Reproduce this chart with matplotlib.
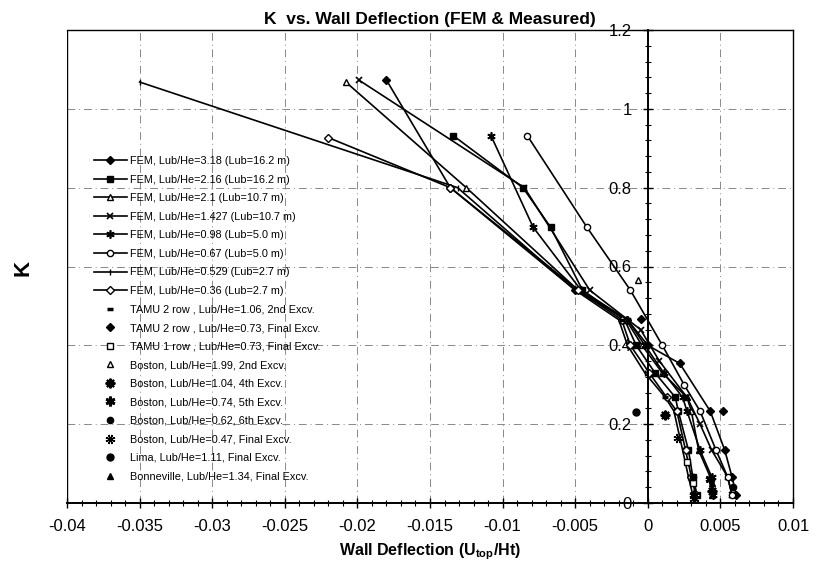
import matplotlib
matplotlib.use("Agg")
import matplotlib.pyplot as plt
from matplotlib.ticker import MultipleLocator

plt.rcParams['font.family'] = ['Liberation Sans', 'DejaVu Sans']

# ---------------- data ----------------
fem_labels = [
    "FEM, Lub/He=3.18 (Lub=16.2 m)",
    "FEM, Lub/He=2.16 (Lub=16.2 m)",
    "FEM, Lub/He=2.1 (Lub=10.7 m)",
    "FEM, Lub/He=1.427 (Lub=10.7 m)",
    "FEM, Lub/He=0.98 (Lub=5.0 m)",
    "FEM, Lub/He=0.67 (Lub=5.0 m)",
    "FEM, Lub/He=0.529 (Lub=2.7 m)",
    "FEM, Lub/He=0.36 (Lub=2.7 m)",
]
fem_x = [
    [-0.0180, -0.0136, -0.0050, -0.0014, 0.0000, 0.0022, 0.0043, 0.0053, 0.0058, 0.0061],
    [-0.0134, -0.0086, -0.0067, -0.0045, -0.0016, -0.0008, 0.0005, 0.0019, 0.0021, 0.0028, 0.0031, 0.0034],
    [-0.0208, -0.0125, -0.0048, -0.0015, -0.0004, 0.0010, 0.0027, 0.0030, 0.0035, 0.0043, 0.0044],
    [-0.0199, -0.0085, -0.0040, -0.0005, 0.0008, 0.0027, 0.0036, 0.0044, 0.0055, 0.0058],
    [-0.0108, -0.0079, -0.0046, -0.0014, -0.0002, 0.0011, 0.0024, 0.0027, 0.0036, 0.0044, 0.0045],
    [-0.0083, -0.0042, -0.0012, 0.0010, 0.0025, 0.0036, 0.0047, 0.0055, 0.0058],
    [-0.0350, -0.0131, -0.0050, -0.0020, -0.0014, -0.0002, 0.0012, 0.0018, 0.0024, 0.0028, 0.0031],
    [-0.0220, -0.0136, -0.0048, -0.0018, -0.0012, 0.0001, 0.0013, 0.0020, 0.0026, 0.0030, 0.0033],
]
fem_k = [
    [1.073, 0.80, 0.54, 0.465, 0.40, 0.354, 0.233, 0.134, 0.066, 0.02],
    [0.932, 0.80, 0.70, 0.54, 0.465, 0.40, 0.33, 0.268, 0.233, 0.134, 0.066, 0.02],
    [1.068, 0.80, 0.54, 0.465, 0.40, 0.33, 0.268, 0.233, 0.134, 0.066, 0.02],
    [1.073, 0.80, 0.54, 0.44, 0.36, 0.268, 0.20, 0.134, 0.066, 0.02],
    [0.932, 0.70, 0.54, 0.465, 0.40, 0.33, 0.268, 0.233, 0.134, 0.066, 0.02],
    [0.932, 0.70, 0.54, 0.40, 0.30, 0.233, 0.134, 0.066, 0.02],
    [1.068, 0.80, 0.54, 0.465, 0.40, 0.33, 0.268, 0.233, 0.134, 0.066, 0.02],
    [0.927, 0.80, 0.54, 0.465, 0.40, 0.33, 0.268, 0.233, 0.134, 0.066, 0.02],
]

meas_labels = [
    "TAMU 2 row , Lub/He=1.06, 2nd Excv.",
    "TAMU 2 row , Lub/He=0.73, Final Excv.",
    "TAMU 1 row , Lub/He=0.73, Final Excv.",
    "Boston, Lub/He=1.99, 2nd Excv.",
    "Boston, Lub/He=1.04, 4th Excv.",
    "Boston, Lub/He=0.74, 5th Excv.",
    "Boston, Lub/He=0.62, 6th Excv.",
    "Boston, Lub/He=0.47, Final Excv.",
    "Lima, Lub/He=1.11, Final Excv.",
    "Bonneville, Lub/He=1.34, Final Excv.",
]
meas_x = [
    [-0.0018, 0.0012],
    [-0.0005, 0.0052],
    [0.0027, 0.0031],
    [-0.0007],
    [0.0012, 0.0044],
    [0.0043, 0.0032],
    [0.0031, 0.0059],
    [0.0021, 0.0032],
    [-0.0008],
    [0.0044],
]
meas_k = [
    [0.465, 0.27],
    [0.468, 0.233],
    [0.104, 0.05],
    [0.567],
    [0.223, 0.03],
    [0.06, 0.02],
    [0.066, 0.04],
    [0.165, 0.01],
    [0.230],
    [0.05],
]

x_ticks = [-0.04, -0.035, -0.03, -0.025, -0.02, -0.015, -0.01, -0.005, 0, 0.005, 0.01]
y_ticks = [0, 0.2, 0.4, 0.6, 0.8, 1, 1.2]

# ---------------- styles ----------------
fem_styles = [
    dict(marker='D', ms=3.8, mfc='black', ls='-'),
    dict(marker='s', ms=4.5, mfc='black', ls='-'),
    dict(marker='^', ms=4.5, mfc='white', ls='-'),
    dict(marker='x', ms=5, mew=1.2, ls='-'),
    dict(marker=(6, 2, 0), ms=6, mew=1.2, ls='-'),
    dict(marker='o', ms=4.5, mfc='white', ls='-'),
    dict(marker='|', ms=5, mew=1.0, ls='-'),
    dict(marker='D', ms=4, mfc='white', ls='-'),
]
meas_styles = [
    dict(marker='_', ms=5, mew=2.5),
    dict(marker='D', ms=3.8, mfc='black'),
    dict(marker='s', ms=4.5, mfc='white'),
    dict(marker='^', ms=4.5, mfc='white'),
    dict(marker=(8, 2, 0), ms=7, mew=1.5),
    dict(marker=(6, 2, 0), ms=7, mew=2.0),
    dict(marker='o', ms=4.5, mfc='black'),
    dict(marker=(8, 2, 22.5), ms=7, mew=1.0),
    dict(marker='o', ms=5, mfc='black'),
    dict(marker='^', ms=5, mfc='black'),
]

fig = plt.figure(figsize=(8.13, 5.68), dpi=100)
ax = fig.add_axes([67/813, 1-503/568, 726/813, 473/568])

for xs, ks, lab, st in zip(fem_x, fem_k, fem_labels, fem_styles):
    ax.plot(xs, ks, color='black', lw=1.2, mec='black', label=lab, **st)
for xs, ks, lab, st in zip(meas_x, meas_k, meas_labels, meas_styles):
    ax.plot(xs, ks, color='black', ls='none', mec='black', label=lab, **st)

ax.set_xlim(x_ticks[0], x_ticks[-1])
ax.set_ylim(y_ticks[0], y_ticks[-1])
ax.set_xticks(x_ticks)
ax.set_xticklabels([f"{v:g}" for v in x_ticks])
ax.set_yticks(y_ticks)
ax.set_yticklabels([f"{v:g}" for v in y_ticks])
ax.xaxis.set_minor_locator(MultipleLocator(0.001))
ax.yaxis.set_minor_locator(MultipleLocator(0.04))

ax.spines['left'].set_position(('data', 0))
ax.spines['left'].set_linewidth(1.4)
ax.spines['bottom'].set_linewidth(1.4)
for s in ['top', 'right']:
    ax.spines[s].set_linewidth(1.0)
ax.axvline(x_ticks[0], color='black', lw=1.0)

ax.tick_params(axis='both', which='both', direction='inout', color='black')
ax.tick_params(axis='both', which='major', length=7.2, width=1.0, labelsize=12)
ax.tick_params(axis='both', which='minor', length=5, width=0.8)
ax.tick_params(axis='y', pad=8)
ax.tick_params(axis='x', pad=8)

ax.grid(True, which='major', color='#888888', lw=0.7, ls=(0, (8, 4, 1, 4)))
ax.set_axisbelow(True)

ax.set_title("K  vs. Wall Deflection (FEM & Measured)", fontsize=12.5, fontweight='bold', pad=4)
ax.set_xlabel(r"Wall Deflection (U$_{\mathregular{top}}$/Ht)", fontsize=11.5, fontweight='bold', labelpad=5)
fig.text(23/813, 1-268/568, "K", rotation=90, fontsize=16, fontweight='bold', ha='center', va='center')

leg = ax.legend(loc='upper left', bbox_to_anchor=(0.03, 0.745), frameon=False,
                fontsize=7.8, handlelength=3.0, labelspacing=0.79, handletextpad=0.3,
                borderpad=0.0)

fig.savefig("out.png", dpi=100)
